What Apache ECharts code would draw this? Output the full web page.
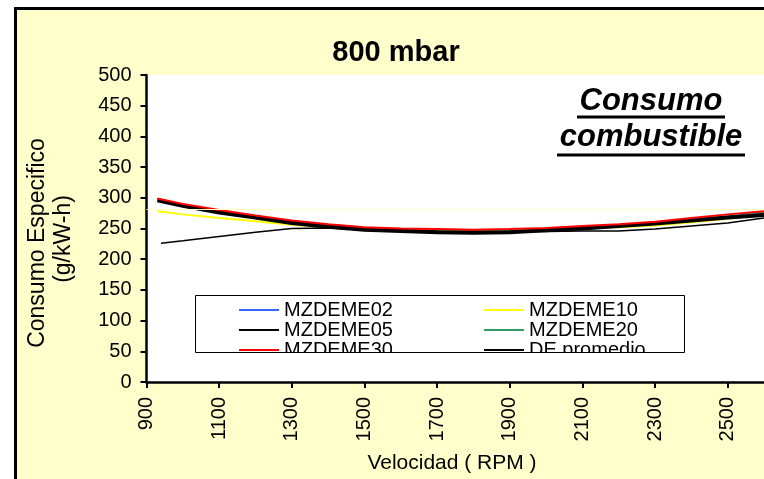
<!DOCTYPE html>
<html>
<head>
<meta charset="utf-8">
<script src="https://cdn.jsdelivr.net/npm/echarts@6/dist/echarts.min.js"></script>
<style>
  html, body { margin: 0; padding: 0; background: #ffffff; }
  #chart { width: 764px; height: 479px; }
</style>
</head>
<body>
<div id="chart"></div>
<script>
// Engine speed (RPM) sample points
const rpm = [930, 1000, 1100, 1200, 1300, 1400, 1500, 1600, 1700, 1800, 1900, 2000, 2100, 2200, 2300, 2400, 2500, 2600];
const rpm05 = [940, 1000, 1100, 1200, 1300, 1400, 1500, 1600, 1700, 1800, 1900, 2000, 2100, 2200, 2300, 2400, 2500, 2600];

// Specific fuel consumption, g/kW-h
const mzdeme02 = [297, 288, 277, 269, 260, 254, 249, 247, 245, 244, 245, 248, 251, 255, 259, 264, 269, 274];
const mzdeme10 = [278, 273, 267, 262, 256, 252, 248, 247, 246, 246, 247, 249, 251, 252, 255, 260, 266, 272];
const mzdeme05 = [226, 230, 237, 244, 250, 251, 248, 246, 245, 245, 245, 245, 246, 246, 249, 254, 259, 267];
const mzdeme20 = [298, 288, 278, 270, 261, 255, 250, 248, 246, 246, 246, 249, 252, 255, 259, 265, 270, 276];
const dePromedio = [296, 287, 276, 268, 259, 253, 248, 246, 244, 243, 244, 247, 250, 254, 258, 263, 268, 272];
const mzdeme30 = [299, 290, 280, 271, 263, 257, 252, 250, 249, 248, 249, 251, 254, 257, 261, 267, 273, 278];

const faintRef = 281;

const yTicks = { min: 0, max: 500, step: 50 };
const xTicks = { min: 900, max: 2600, step: 200 };

const FONT = "'Liberation Sans', Arial, sans-serif";

function pairs(xs, ys) { return xs.map((x, i) => [x, ys[i]]); }

function lineSeries(name, xs, ys, color, width, extra) {
  return Object.assign({
    name: name,
    type: 'line',
    data: pairs(xs, ys),
    symbol: 'none',
    showSymbol: false,
    smooth: false,
    lineStyle: { color: color, width: width },
    itemStyle: { color: color },
    emphasis: { disabled: true },
    animation: false
  }, extra || {});
}

const legendCommon = {
  orient: 'vertical',
  top: 300,
  padding: 0,
  itemGap: 0,
  itemWidth: 40,
  itemHeight: 2,
  selectedMode: false,
  textStyle: { fontFamily: FONT, fontSize: 20, color: '#000', lineHeight: 19 }
};

const chart = echarts.init(document.getElementById('chart'), null, { renderer: 'canvas' });

chart.setOption({
  backgroundColor: '#ffffff',
  animation: false,
  grid: {
    left: 146.5, top: 75, bottom: 97, right: 0,
    show: true, backgroundColor: '#ffffff', borderWidth: 0
  },
  legend: [
    Object.assign({ left: 238, data: ['MZDEME02', 'MZDEME05', 'MZDEME30'] }, legendCommon),
    Object.assign({ left: 483, data: ['MZDEME10', 'MZDEME20', 'DE promedio'] }, legendCommon)
  ],
  xAxis: {
    type: 'value',
    min: xTicks.min, max: xTicks.max, interval: xTicks.step,
    splitLine: { show: false },
    axisLine: { show: true, onZero: false, lineStyle: { color: '#000', width: 2.5 } },
    axisTick: { show: true, length: 6, lineStyle: { color: '#000', width: 2 } },
    axisLabel: { rotate: 90, margin: 15, fontFamily: FONT, fontSize: 20, color: '#000',
                 showMaxLabel: false, formatter: v => String(v) }
  },
  yAxis: {
    type: 'value',
    min: yTicks.min, max: yTicks.max, interval: yTicks.step,
    splitLine: { show: false },
    axisLine: { show: true, lineStyle: { color: '#000', width: 2.5 } },
    axisTick: { show: true, length: 6, lineStyle: { color: '#000', width: 2 } },
    axisLabel: { margin: 15, fontFamily: FONT, fontSize: 20, color: '#000', formatter: v => String(v) }
  },
  series: [
    lineSeries('MZDEME02', rpm, mzdeme02, '#3366ff', 1.5),
    lineSeries('MZDEME10', rpm, mzdeme10, '#ffff00', 2, {
      markLine: {
        silent: true, symbol: 'none', label: { show: false },
        lineStyle: { color: '#ffffb8', width: 1, type: 'solid' },
        data: [{ yAxis: faintRef }]
      }
    }),
    lineSeries('MZDEME05', rpm05, mzdeme05, '#000000', 1.5),
    lineSeries('MZDEME20', rpm, mzdeme20, '#339966', 2),
    lineSeries('DE promedio', rpm, dePromedio, '#000000', 4),
    lineSeries('MZDEME30', rpm, mzdeme30, '#ff0000', 2)
  ],
  graphic: [
    // chart area panel
    { type: 'rect', z: -1, shape: { x: 15.5, y: 8.5, width: 820, height: 520 },
      style: { fill: '#ffffcc', stroke: '#000', lineWidth: 3 } },
    // legend panel: hide overflowing last row, then frame
    { type: 'rect', z: 100, shape: { x: 195, y: 353, width: 490, height: 27 },
      style: { fill: '#ffffff' } },
    { type: 'rect', z: 101, shape: { x: 195.5, y: 295.5, width: 489, height: 57 },
      style: { fill: 'none', stroke: '#000', lineWidth: 1 } },
    // title
    { type: 'text', z: 50, x: 396, y: 53,
      style: { text: '800 mbar', fontFamily: FONT, fontSize: 29, fontWeight: 'bold',
               fill: '#000', align: 'center', verticalAlign: 'middle' } },
    // caption
    { type: 'text', z: 50, x: 651, y: 101,
      style: { text: 'Consumo', fontFamily: FONT, fontSize: 31, fontWeight: 'bold', fontStyle: 'italic',
               fill: '#000', align: 'center', verticalAlign: 'middle' } },
    { type: 'text', z: 50, x: 651, y: 137,
      style: { text: 'combustible', fontFamily: FONT, fontSize: 31, fontWeight: 'bold', fontStyle: 'italic',
               fill: '#000', align: 'center', verticalAlign: 'middle' } },
    { type: 'line', z: 50, shape: { x1: 577, y1: 117, x2: 725, y2: 117 },
      style: { stroke: '#000', lineWidth: 3 } },
    { type: 'line', z: 50, shape: { x1: 557, y1: 155, x2: 745, y2: 155 },
      style: { stroke: '#000', lineWidth: 3 } },
    // axis names
    { type: 'text', z: 50, x: 38, y: 243, rotation: Math.PI / 2,
      style: { text: 'Consumo Especifico', fontFamily: FONT, fontSize: 23,
               fill: '#000', align: 'center', verticalAlign: 'middle' } },
    { type: 'text', z: 50, x: 64, y: 239, rotation: Math.PI / 2,
      style: { text: '(g/kW-h)', fontFamily: FONT, fontSize: 23,
               fill: '#000', align: 'center', verticalAlign: 'middle' } },
    { type: 'text', z: 50, x: 452, y: 463,
      style: { text: 'Velocidad ( RPM )', fontFamily: FONT, fontSize: 21,
               fill: '#000', align: 'center', verticalAlign: 'middle' } }
  ]
});
</script>
</body>
</html>
